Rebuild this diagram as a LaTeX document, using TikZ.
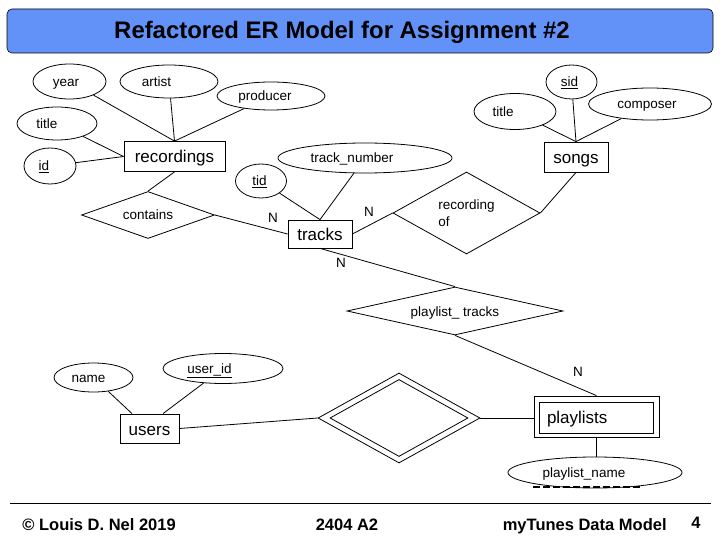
\documentclass[tikz,border=0pt]{standalone}
\usepackage{fontspec}
\setmainfont{Liberation Sans}
\usetikzlibrary{shapes.geometric}
\definecolor{titleblue}{RGB}{98,146,248}
\begin{document}
\begin{tikzpicture}[x=1pt,y=-1pt,line width=0.8pt,
  attr/.style={ellipse,draw,inner sep=0pt,text height=10pt,text depth=0pt,font=\fontsize{13.5}{16}\selectfont},
  ent/.style={rectangle,draw,inner sep=0pt,text height=13pt,text depth=0pt,font=\fontsize{17}{20}\selectfont},
  rel/.style={diamond,draw,inner sep=0pt,font=\fontsize{13.5}{17}\selectfont},
  card/.style={inner sep=0pt,font=\fontsize{13.5}{16}\selectfont},
  foot/.style={inner sep=0pt,font=\fontsize{16.5}{20}\bfseries\selectfont}]
\useasboundingbox (0,0) rectangle (720,540);

% title
\node[draw,fill=titleblue,rounded corners=5pt,minimum width=706pt,minimum height=44pt,inner sep=0pt,line width=0.6pt] (titlebox) at (360,31) {};
\node[anchor=base,inner sep=0pt,font=\fontsize{23.9}{28}\bfseries\selectfont] (title) at (342,39) {Refactored ER Model for Assignment \#2};

% entities
\node[ent,minimum width=101pt,minimum height=30pt] (rec) at (174.5,156.5) {recordings};
\node[ent,minimum width=64pt,minimum height=28pt] (tracks) at (320,234) {tracks};
\node[ent,minimum width=64pt,minimum height=30pt] (songs) at (576,157) {songs};
\node[ent,minimum width=59pt,minimum height=29pt] (users) at (149.5,428.5) {users};
\node[ent,minimum width=125pt,minimum height=41pt] (plout) at (596.5,416.5) {};
\node[ent,minimum width=114pt,minimum height=31pt,text width=98pt,align=left,inner xsep=8pt,text height=11pt] (pl) at (596,417.5) {playlists};

% attributes
\node[attr,minimum width=73pt,minimum height=35pt] (year) at (69.5,81.5) {year\hspace*{7pt}};
\node[attr,minimum width=98pt,minimum height=33pt] (artist) at (169,81.5) {artist\hspace*{25pt}};
\node[attr,minimum width=108pt,minimum height=28pt] (producer) at (271,96) {producer\hspace*{12pt}};
\node[attr,minimum width=80pt,minimum height=33pt] (title1) at (57,123.5) {title\hspace*{20pt}};
\node[attr,minimum width=52pt,minimum height=36pt] (id) at (50,166) {\underline{id}\hspace*{12pt}};
\node[attr,minimum width=51pt,minimum height=34pt] (tid) at (261,181) {\underline{tid}\hspace*{3pt}};
\node[attr,minimum width=174pt,minimum height=30pt] (tnum) at (365,158) {track\_number\hspace*{26pt}};
\node[attr,minimum width=51pt,minimum height=34pt] (sid) at (571.5,82) {\underline{sid}\hspace*{4pt}};
\node[attr,minimum width=82pt,minimum height=36pt] (stitle) at (515,111.5) {title\hspace*{24pt}};
\node[attr,minimum width=123pt,minimum height=32pt] (composer) at (650,104) {composer\hspace*{6pt}};
\node[attr,minimum width=79pt,minimum height=29pt] (name) at (93.5,377.5) {name\hspace*{10pt}};
\node[attr,minimum width=120pt,minimum height=30pt] (uid) at (223,368.5) {\underline{user\_id}\hspace*{27pt}};
\node[attr,minimum width=174pt,minimum height=31pt] (pname) at (595,472.5) {playlist\_name\hspace*{22pt}};

% relationships
\node[rel,minimum width=133pt,minimum height=47pt,aspect=2.83,text height=10pt,text depth=0pt] (contains) at (148,215) {contains};
\node[rel,minimum width=147pt,minimum height=82pt,aspect=1.8,align=left] (recof) at (466.5,213) {recording\\of};
\node[rel,minimum width=216pt,minimum height=48pt,aspect=4.5,text height=11pt,text depth=0pt] (pt) at (455,311) {playlist\_ tracks};
\node[rel,minimum width=162pt,minimum height=90pt,aspect=1.8] (ident) at (399,418) {};
\node[rel,minimum width=138pt,minimum height=77pt,aspect=1.8] (identin) at (399,418) {};

% connectors
\draw (year) -- (rec.north);
\draw (artist) -- (rec.north);
\draw (producer) -- (rec.north);
\draw (title1) -- (rec.west);
\draw (id) -- (rec.west);
\draw (rec.south) -- (contains.north);
\draw (contains.east) -- (tracks.west);
\draw (tid) -- (tracks.north);
\draw (tnum) -- (tracks.north);
\draw (tracks.east) -- (recof.west);
\draw (recof.east) -- (songs.south);
\draw (stitle) -- (songs.north);
\draw (sid) -- (songs.north);
\draw (composer) -- (songs.north);
\draw (tracks.south) -- (pt.north);
\draw (pt.south) -- (plout.north);
\draw (users.east) -- (ident.west);
\draw (ident.east) -- (ident.east -| plout.west);
\draw (plout.south) -- (plout.south |- pname.north);
\draw (name) -- ([xshift=-17.5pt]users.north);
\draw (uid) -- ([xshift=13.5pt]users.north);

% partial key underline
\draw[line width=2pt,dash pattern=on 7pt off 3pt] ([xshift=-62pt,yshift=1.5pt]pname.south) -- ([xshift=46pt,yshift=1.5pt]pname.south);

% cardinalities
\node[card] (n1) at (273,218) {N};
\node[card] (n2) at (369,212) {N};
\node[card] (n3) at (341,263) {N};
\node[card] (n4) at (578,372) {N};

% footer
\coordinate (fl) at (10,503);
\coordinate (fr) at (711,503);
\draw[line width=1pt] (fl) -- (fr);
\node[foot,anchor=base west] (copy) at (22,530) {© Louis D. Nel 2019};
\node[foot,anchor=base] (course) at (347,530) {2404 A2};
\node[foot,anchor=base east] (topic) at (667,530) {myTunes Data Model};
\node[foot,anchor=base] (page) at (696,528) {4};
\end{tikzpicture}
\end{document}
